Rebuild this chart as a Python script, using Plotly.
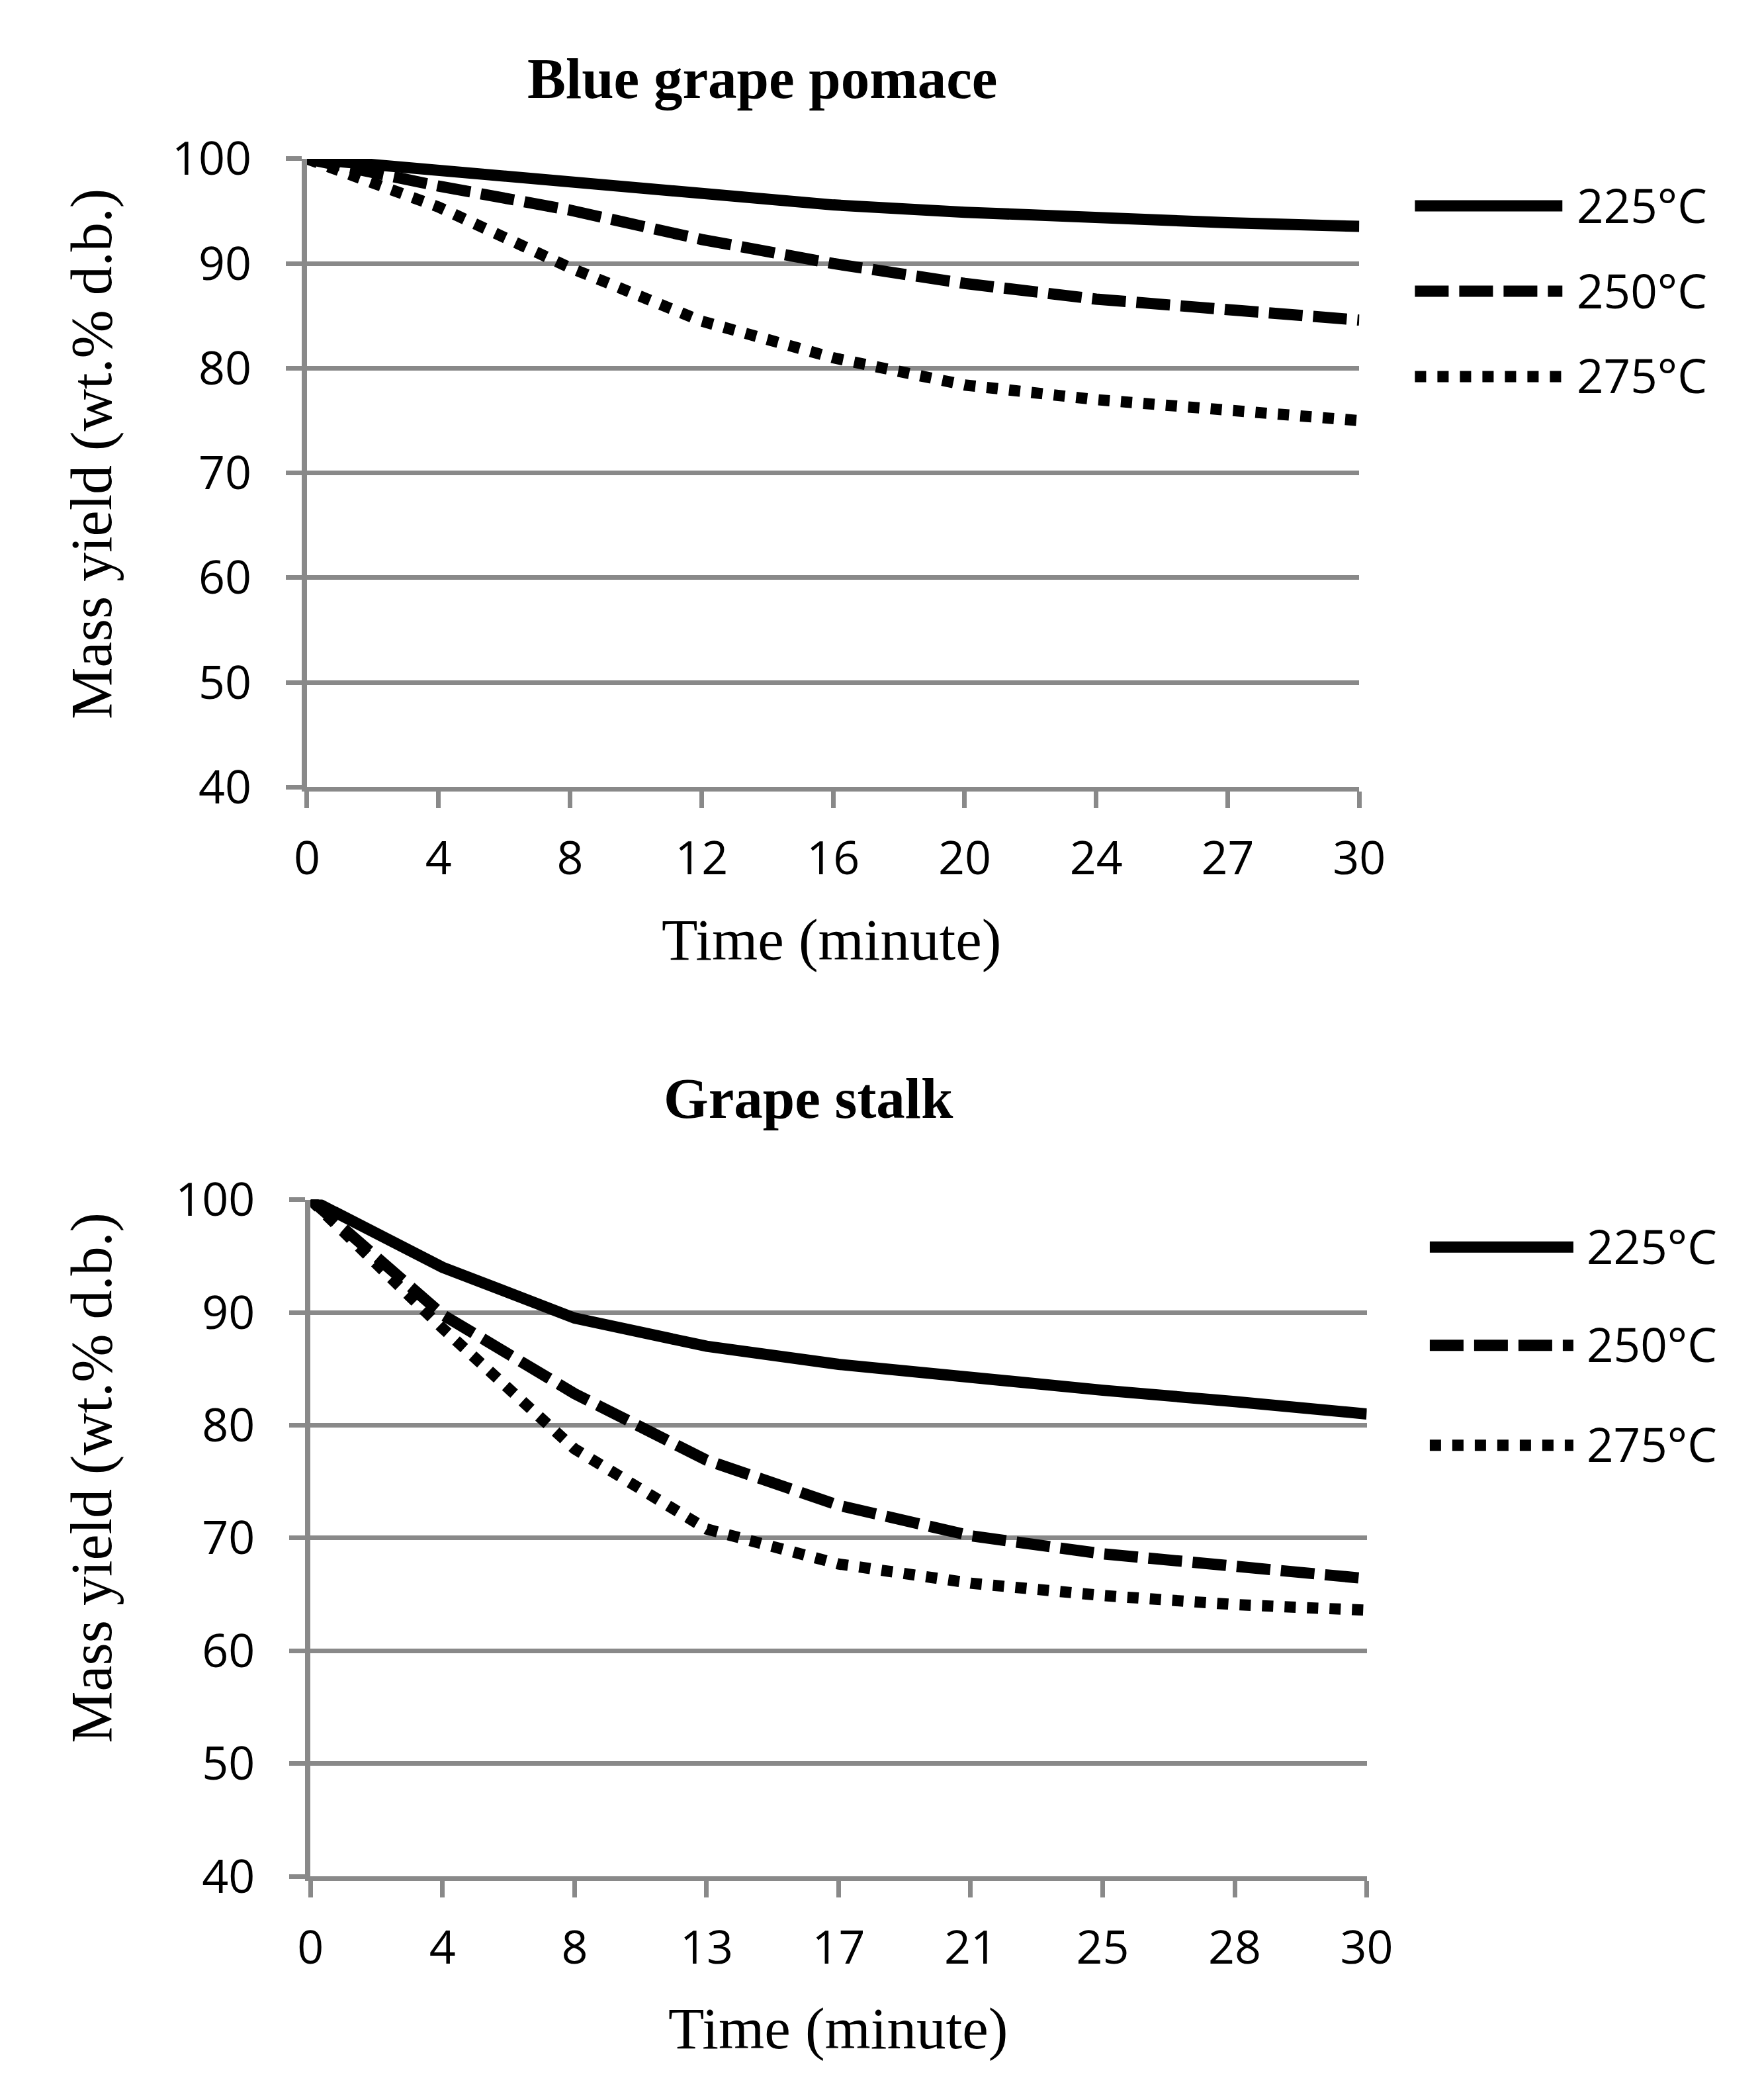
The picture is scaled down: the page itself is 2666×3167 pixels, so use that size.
import plotly.graph_objects as go

# ---------------- data ----------------
series_names = ["225°C", "250°C", "275°C"]

top_title = "Blue grape pomace"
top_times = ["0", "4", "8", "12", "16", "20", "24", "27", "30"]
top_225 = [100, 98.9, 97.6, 96.5, 95.6, 94.9, 94.3, 93.9, 93.55]
top_250 = [100, 97.4, 95.1, 92.3, 90.0, 88.1, 86.6, 85.6, 84.6]
top_275 = [100, 95.4, 89.6, 84.5, 81.0, 78.4, 77.0, 75.9, 75.0]

bot_title = "Grape stalk"
bot_times = ["0", "4", "8", "13", "17", "21", "25", "28", "30"]
bot_225 = [100, 94.0, 89.5, 87.0, 85.4, 84.2, 83.1, 82.1, 81.0]
bot_250 = [100, 89.8, 82.8, 76.9, 72.9, 70.2, 68.6, 67.4, 66.4]
bot_275 = [100, 88.6, 77.9, 70.8, 67.7, 66.0, 64.9, 64.1, 63.6]

y_ticks = [40, 50, 60, 70, 80, 90, 100]
y_title = "Mass yield (wt.% d.b.)"
x_title = "Time (minute)"

# ---------------- style ----------------
W, H = 2666, 3167
GRID = "#898989"
LW = 17
DASHES = ["solid", "51px,16px", "17px,17px"]
SANS = "Open Sans"
SERIF = "Liberation Serif"


def px(xp):
    return xp / W


def py(yp):
    return 1 - yp / H


fig = go.Figure()

panels = [
    dict(times=top_times, vals=[top_225, top_250, top_275], xa="x", ya="y",
         xdom=[446, 2073], ytop100=186.7, ybot40=1166, title=top_title,
         title_xy=(1150, 61.5), ytitle_xy=(113, 646), xtitle_xy=(1257, 1404),
         leg_x=(2159, 2387, 2407), leg_y=[260, 393, 526]),
    dict(times=bot_times, vals=[bot_225, bot_250, bot_275], xa="x2", ya="y2",
         xdom=[451.5, 2084.5], ytop100=1809, ybot40=2864, title=bot_title,
         title_xy=(1222, 1651), ytitle_xy=(113, 2242), xtitle_xy=(1267, 3101),
         leg_x=(2182, 2404, 2423), leg_y=[1883, 2036, 2192]),
]

shapes = []
annotations = []

for i, p in enumerate(panels):
    for name, vals, dash in zip(series_names, p["vals"], DASHES):
        fig.add_trace(go.Scatter(
            x=p["times"], y=vals, name=name, mode="lines",
            line=dict(color="black", width=LW, dash=dash),
            xaxis=p["xa"], yaxis=p["ya"], showlegend=False,
        ))
    suffix = "" if i == 0 else str(i + 1)
    fig.layout["xaxis" + suffix] = dict(
        type="category", categoryorder="array", categoryarray=p["times"],
        range=[0, len(p["times"]) - 1], domain=[px(p["xdom"][0]), px(p["xdom"][1])],
        anchor=p["ya"], showgrid=False, showline=True, linecolor=GRID, linewidth=7,
        ticks="outside", ticklen=25, tickwidth=7, tickcolor=GRID,
        tickfont=dict(family=SANS, size=70, color="black"), ticklabelstandoff=16,
        zeroline=False, fixedrange=True,
    )
    fig.layout["yaxis" + suffix] = dict(
        range=[40, 100], domain=[py(p["ybot40"]), py(p["ytop100"])], anchor=p["xa"],
        tickmode="array", tickvals=y_ticks, ticktext=[str(v) for v in y_ticks],
        showgrid=True, gridcolor=GRID, gridwidth=7,
        showline=True, linecolor=GRID, linewidth=8,
        ticks="outside", ticklen=24, tickwidth=7, tickcolor=GRID,
        tickfont=dict(family=SANS, size=70, color="black"), ticklabelstandoff=38,
        zeroline=False, fixedrange=True,
    )
    # titles
    annotations.append(dict(text=p["title"], xref="paper", yref="paper",
                            x=px(p["title_xy"][0]), y=py(p["title_xy"][1]),
                            showarrow=False, xanchor="center", yanchor="middle",
                            font=dict(family=SERIF, size=87, color="black", weight="bold")))
    annotations.append(dict(text=y_title, xref="paper", yref="paper",
                            x=px(p["ytitle_xy"][0]), y=py(p["ytitle_xy"][1]),
                            showarrow=False, textangle=-90, xanchor="center", yanchor="middle",
                            font=dict(family=SERIF, size=88, color="black")))
    annotations.append(dict(text=x_title, xref="paper", yref="paper",
                            x=px(p["xtitle_xy"][0]), y=py(p["xtitle_xy"][1]),
                            showarrow=False, xanchor="center", yanchor="middle",
                            font=dict(family=SERIF, size=89, color="black")))
    # legend
    lx0, lx1, tx = p["leg_x"]
    for name, dash, ly in zip(series_names, DASHES, p["leg_y"]):
        shapes.append(dict(type="line", xref="paper", yref="paper",
                           x0=px(lx0), x1=px(lx1), y0=py(ly), y1=py(ly),
                           line=dict(color="black", width=LW, dash=dash)))
        annotations.append(dict(text=name, xref="paper", yref="paper",
                                x=px(tx), y=py(ly - 2), showarrow=False,
                                xanchor="left", yanchor="middle",
                                font=dict(family=SANS, size=71, color="black")))

fig.update_layout(
    width=W, height=H, autosize=False,
    margin=dict(l=0, r=0, t=0, b=0),
    paper_bgcolor="white", plot_bgcolor="white",
    shapes=shapes, annotations=annotations, showlegend=False,
)

fig.write_html("out.html")
